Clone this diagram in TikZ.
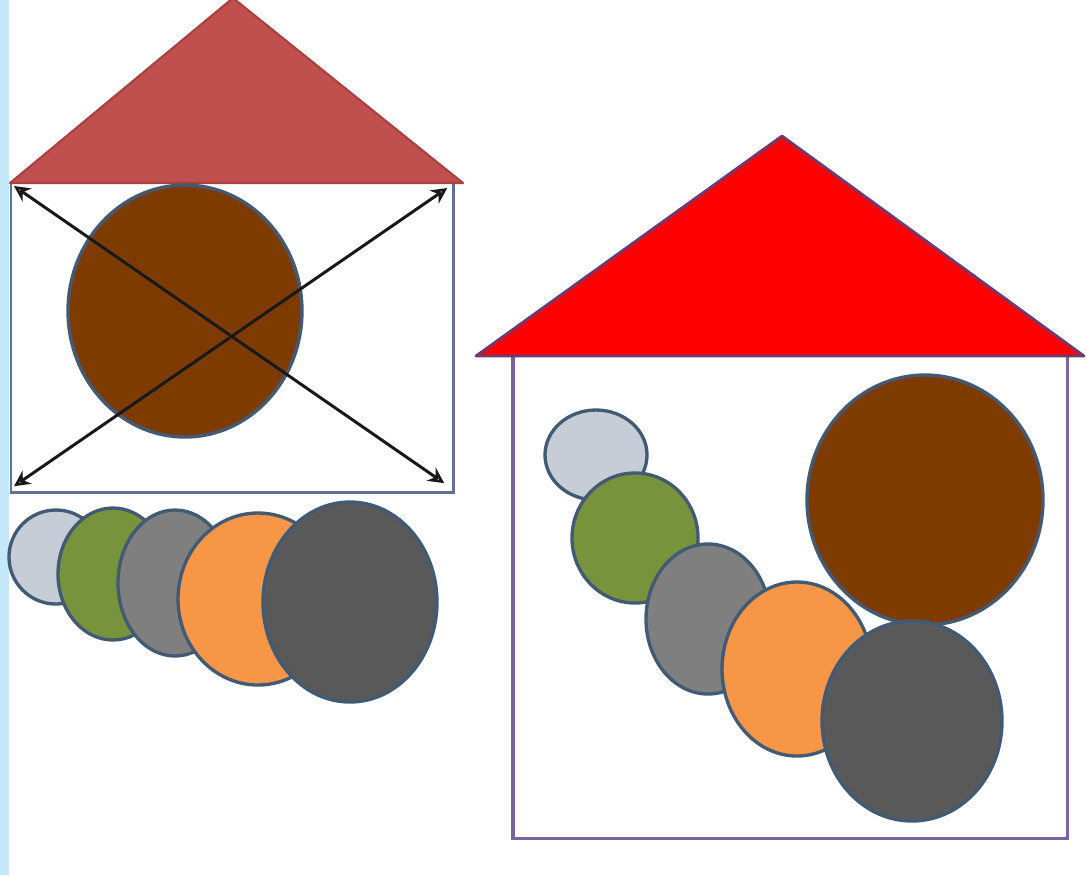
\documentclass[tikz,border=0pt]{standalone}
\usetikzlibrary{arrows.meta}
\definecolor{stripblue}{HTML}{C4E8FA}
\definecolor{roofA}{HTML}{C0504D}
\definecolor{roofAline}{HTML}{A8413F}
\definecolor{roofB}{HTML}{FF0000}
\definecolor{roofBline}{HTML}{6E3A70}
\definecolor{brownfill}{HTML}{7E3B00}
\definecolor{slate}{HTML}{435A74}
\definecolor{rectA}{HTML}{5F7290}
\definecolor{rectB}{HTML}{7D62A0}
\definecolor{cLight}{HTML}{C6CDD6}
\definecolor{cGreen}{HTML}{77933C}
\definecolor{cGray}{HTML}{7F7F7F}
\definecolor{cOrange}{HTML}{F79646}
\definecolor{cDark}{HTML}{595959}
\tikzset{
  ball/.style={draw=slate, line width=0.95pt},
  wallA/.style={draw=rectA, line width=0.8pt, inner sep=0pt, outer sep=0pt, anchor=north west},
  wallB/.style={draw=rectB, line width=1pt, inner sep=0pt, outer sep=0pt, anchor=north west},
  diag/.style={black!90, line width=0.85pt, {Stealth[open,length=4.5pt,width=4.5pt]}-{Stealth[open,length=4.5pt,width=4.5pt]}},
}
\begin{document}
\begin{tikzpicture}[x=0.01cm,y=-0.01cm]
\useasboundingbox (0,0) rectangle (1086,875);
\fill[white] (0,0) rectangle (1086,875);
\fill[stripblue] (0,0) rectangle (9,875);

% ---------- left house ----------
\node[wallA, minimum width=4.42cm, minimum height=3.09cm] (lr) at (11,183) {};
\filldraw[fill=roofA, draw=roofAline, line width=0.6pt, line join=round] (10,183) -- (233,-2) -- (463,183) -- cycle;
\filldraw[ball, fill=brownfill] (185,311) ellipse [x radius=117, y radius=126];
\draw[diag] ([shift={(3,3)}]lr.north west) -- ([shift={(-9,-9)}]lr.south east);
\draw[diag] ([shift={(3,-6)}]lr.south west) -- ([shift={(-6,5)}]lr.north east);

\filldraw[ball, fill=cLight] (56,557) ellipse [x radius=47, y radius=47];
\filldraw[ball, fill=cGreen] (113,574) ellipse [x radius=55, y radius=66];
\filldraw[ball, fill=cGray] (175,583) ellipse [x radius=57, y radius=73];
\filldraw[ball, fill=cOrange] (258,599) ellipse [x radius=80, y radius=86];
\filldraw[ball, fill=cDark] (350,602) ellipse [x radius=87, y radius=100];

% ---------- right house ----------
\node[wallB, minimum width=5.54cm, minimum height=4.83cm] (rr) at (513,355) {};
\filldraw[fill=roofB, draw=roofBline, line width=0.8pt, line join=round] (476,356) -- (782,136) -- (1084,356) -- cycle;

\filldraw[ball, fill=cLight] (596,455) ellipse [x radius=51, y radius=45];
\filldraw[ball, fill=cGreen] (635,538) ellipse [x radius=63, y radius=65];
\filldraw[ball, fill=cGray] (708,619) ellipse [x radius=62, y radius=75];
\filldraw[ball, fill=cOrange] (797,669) ellipse [x radius=75, y radius=87];
\filldraw[ball, fill=brownfill] (925,500) ellipse [x radius=118, y radius=125];
\filldraw[ball, fill=cDark] (912,721) ellipse [x radius=90, y radius=100];
\end{tikzpicture}
\end{document}
